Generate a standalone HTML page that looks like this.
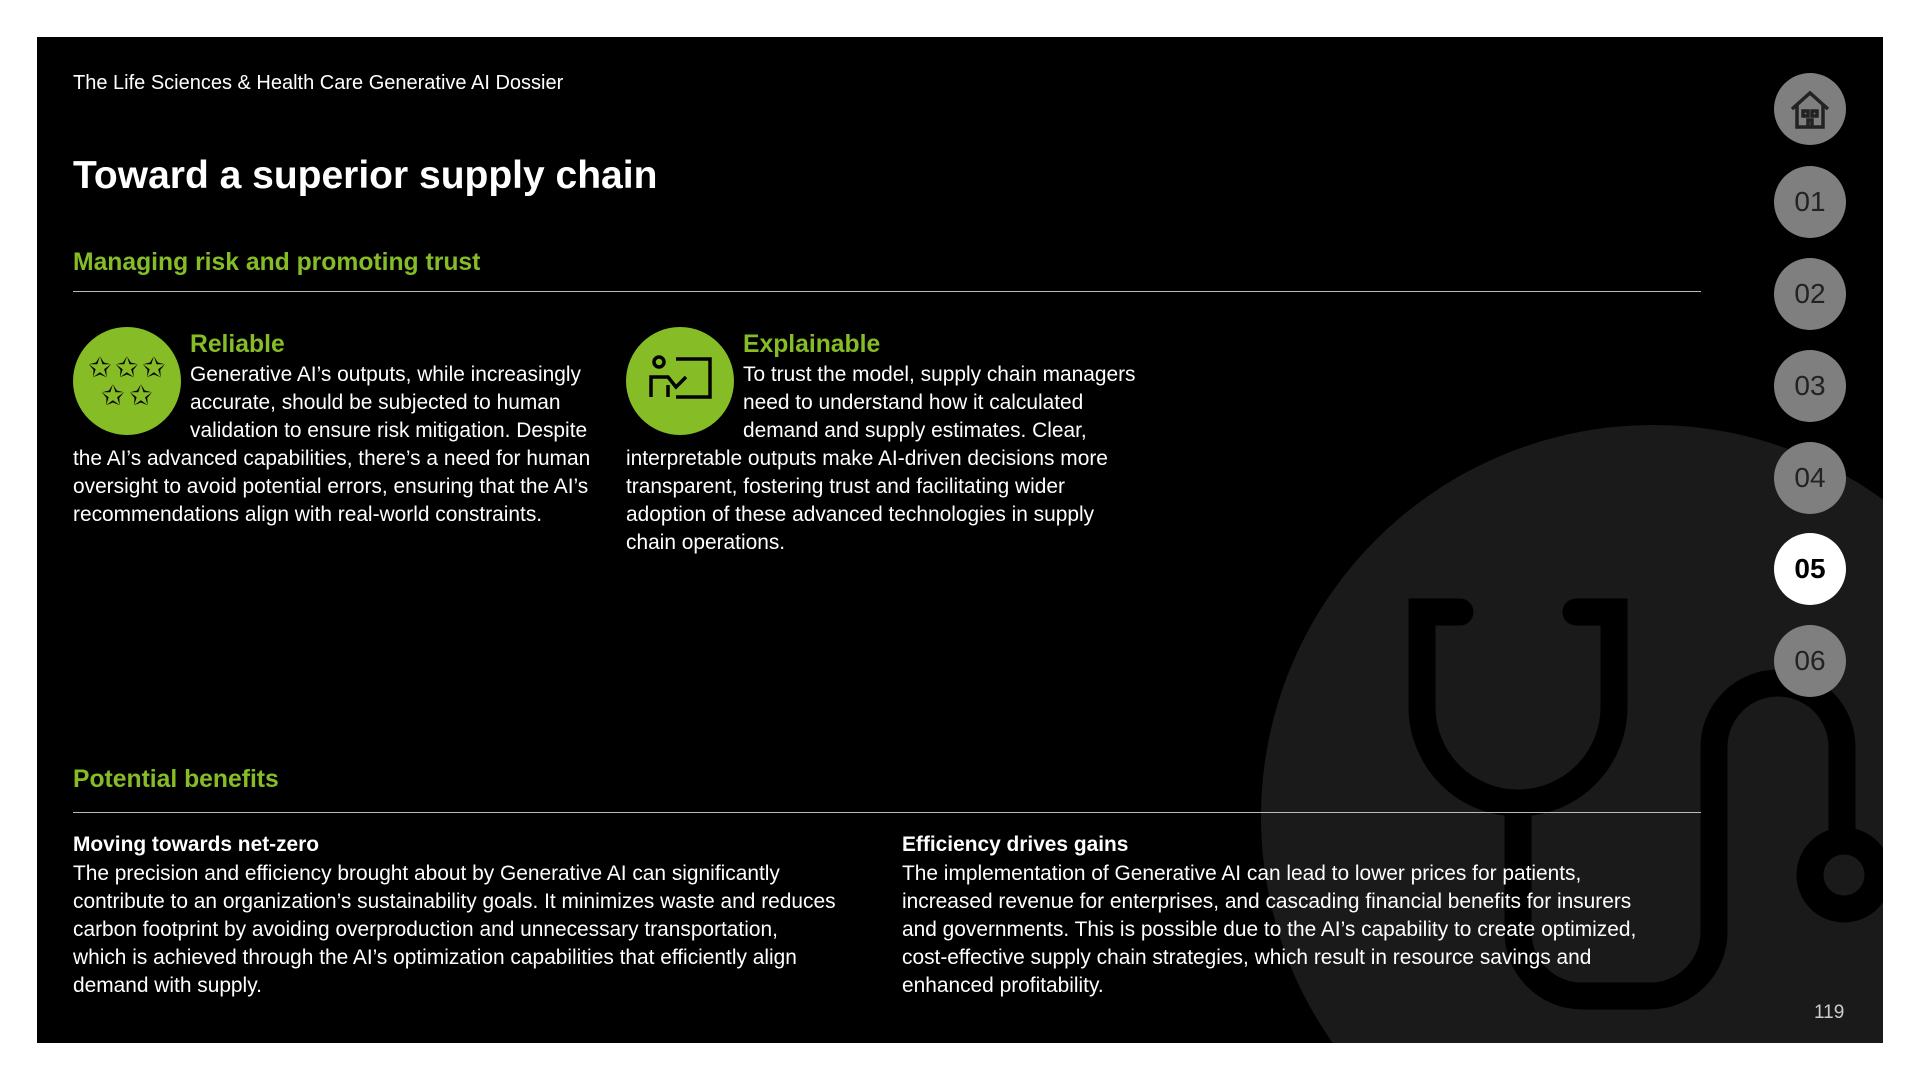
<!DOCTYPE html>
<html><head><meta charset="utf-8"><style>
*{margin:0;padding:0}
html,body{width:1920px;height:1080px;overflow:hidden}
body{background:#fff;position:relative;font-family:"Liberation Sans",sans-serif}
#p{position:absolute;left:37px;top:37px;width:1846px;height:1006px;background:#000;overflow:hidden}
.t{position:absolute;color:#fff;white-space:nowrap;font-size:20.9px}
.g{color:#86bc25;font-weight:bold}
.ln{position:absolute;height:1px;background:#bbb}
.nav{position:absolute;width:72px;height:72px;border-radius:50%;background:#7f7f7f;color:#222;font-size:28px;text-align:center;line-height:72px;left:1737px}
</style></head><body>
<div id="p">
<svg width="1846" height="1006" style="position:absolute;left:0;top:0">
<g transform="translate(-37,-37)">
<circle cx="1653" cy="817" r="392" fill="#1a1a1a"/>
<g fill="none" stroke="#000" stroke-width="27" stroke-linecap="round" transform="translate(0,-18)">
<path d="M1460,630 L1422,630 L1422,725 A96,96 0 0 0 1614,725 L1614,630 L1576,630"/>
<path d="M1518,821 L1518,950 A64,64 0 0 0 1582,1014 L1650,1014 A64,64 0 0 0 1714,950 L1714,765 A64,64 0 0 1 1842,765 L1842,855"/>
<circle cx="1844" cy="893" r="34"/>
</g>
</g>
</svg>
<div class="t" style="left:36px;top:35px;font-size:20px">The Life Sciences &amp; Health Care Generative AI Dossier</div>
<div class="t" style="left:36px;top:117px;font-size:39px;font-weight:bold">Toward a superior supply chain</div>
<div class="t g" style="left:36px;top:212px;font-size:24.7px">Managing risk and promoting trust</div>
<div class="ln" style="left:36px;top:254px;width:1628px"></div>

<svg style="position:absolute;left:36px;top:290px" width="108" height="108">
<circle cx="54" cy="54" r="54" fill="#86bc25"/>
<g fill="#000" font-size="28" text-anchor="middle" font-family="DejaVu Sans" font-weight="bold">
<text x="27" y="50">✩</text><text x="54" y="50">✩</text><text x="81" y="50">✩</text>
<text x="40" y="78">✩</text><text x="68" y="78">✩</text>
</g>
</svg>
<div class="t g" style="left:153px;top:294px;font-size:24.7px">Reliable</div>
<div class="t" style="left:153px;top:324px;line-height:28px">Generative AI’s outputs, while increasingly<br>accurate, should be subjected to human<br>validation to ensure risk mitigation. Despite</div>
<div class="t" style="left:36px;top:408px;line-height:28px">the AI’s advanced capabilities, there’s a need for human<br>oversight to avoid potential errors, ensuring that the AI’s<br>recommendations align with real-world constraints.</div>

<svg style="position:absolute;left:589px;top:290px" width="108" height="108">
<circle cx="54" cy="54" r="54" fill="#86bc25"/>
<g fill="none" stroke="#000" stroke-width="3.5">
<circle cx="33" cy="35" r="5"/>
<path d="M25,70 L25,50 L42,50 L50,60 L60,50"/>
<path d="M42,58 L42,70"/>
<path d="M50,32 L84,32 L84,70 L50,70"/>
</g>
</svg>
<div class="t g" style="left:706px;top:294px;font-size:24.7px">Explainable</div>
<div class="t" style="left:706px;top:324px;line-height:28px">To trust the model, supply chain managers<br>need to understand how it calculated<br>demand and supply estimates. Clear,</div>
<div class="t" style="left:589px;top:408px;line-height:28px">interpretable outputs make AI-driven decisions more<br>transparent, fostering trust and facilitating wider<br>adoption of these advanced technologies in supply<br>chain operations.</div>

<div class="t g" style="left:36px;top:729px;font-size:24.7px">Potential benefits</div>
<div class="ln" style="left:36px;top:775px;width:1628px"></div>
<div class="t" style="left:36px;top:796px;font-weight:bold">Moving towards net-zero</div>
<div class="t" style="left:36px;top:823px;line-height:28px">The precision and efficiency brought about by Generative AI can significantly<br>contribute to an organization’s sustainability goals. It minimizes waste and reduces<br>carbon footprint by avoiding overproduction and unnecessary transportation,<br>which is achieved through the AI’s optimization capabilities that efficiently align<br>demand with supply.</div>
<div class="t" style="left:865px;top:796px;font-weight:bold">Efficiency drives gains</div>
<div class="t" style="left:865px;top:823px;line-height:28px">The implementation of Generative AI can lead to lower prices for patients,<br>increased revenue for enterprises, and cascading financial benefits for insurers<br>and governments. This is possible due to the AI’s capability to create optimized,<br>cost-effective supply chain strategies, which result in resource savings and<br>enhanced profitability.</div>

<div class="nav" style="top:36px"><svg width="72" height="72"><g fill="none" stroke="#222" stroke-width="3.5"><path d="M18,36 L36,20 L54,36"/><path d="M23,32 L23,54 L49,54 L49,32"/><rect x="29" y="38" width="5" height="5"/><rect x="38" y="38" width="5" height="5"/><path d="M34,54 L34,47 L38,47 L38,54"/></g></svg></div>
<div class="nav" style="top:129px">01</div>
<div class="nav" style="top:221px">02</div>
<div class="nav" style="top:313px">03</div>
<div class="nav" style="top:405px">04</div>
<div class="nav" style="top:496px;background:#fff;color:#000;font-weight:bold">05</div>
<div class="nav" style="top:588px">06</div>
<div class="t" style="left:1777px;top:965px;font-size:19px;color:#ccc">119</div>
</div>
</body></html>
